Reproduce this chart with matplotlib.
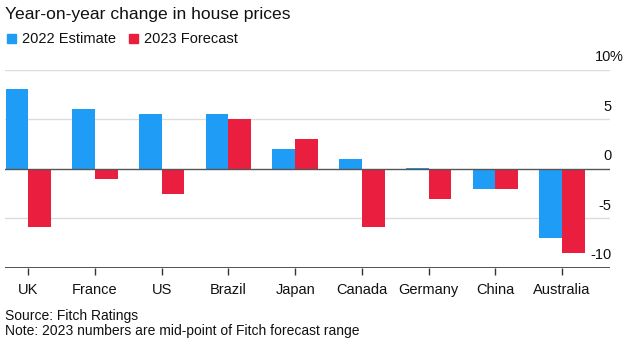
import numpy as np
import matplotlib.pyplot as plt
from matplotlib.patches import Rectangle
import matplotlib.transforms as mtransforms

plt.rcParams['font.family'] = ['Liberation Sans', 'DejaVu Sans']

countries = ['UK', 'France', 'US', 'Brazil', 'Japan', 'Canada', 'Germany', 'China', 'Australia']
est_2022 = [8.0, 6.0, 5.5, 5.5, 2.0, 1.0, 0.1, -2.0, -7.0]
fcst_2023 = [-5.9, -1.0, -2.5, 5.0, 3.0, -5.9, -3.0, -2.0, -8.5]
yticks = [10, 5, 0, -5, -10]

blue = '#1f9cf5'
red = '#ea1f40'

W, H = 634, 346
fig = plt.figure(figsize=(W / 100, H / 100), dpi=100)
ax = fig.add_axes([5 / W, 1 - 268 / H, 605 / W, (268 - 69.5) / H])

x = np.arange(len(countries))
w = 0.34
ax.bar(x - w / 2, est_2022, w, color=blue, zorder=3)
ax.bar(x + w / 2, fcst_2023, w, color=red, zorder=3)

ax.set_xlim(-0.35, 8.72)
ax.set_ylim(-10, 10)

# grid + zero line
for v in yticks:
    if v == 0:
        ax.axhline(v, color='#555555', lw=1, zorder=4)
    elif v == -10:
        ax.axhline(v, color='#333333', lw=1.2, zorder=4)
    else:
        ax.axhline(v, color='#dcdcdc', lw=1, zorder=1)

for s in ax.spines.values():
    s.set_visible(False)
ax.set_yticks([])
ax.set_xticks(x)
ax.set_xticklabels(countries, fontsize=10.5, color='#111111')
ax.tick_params(axis='x', length=5, width=1, color='#333333', pad=5.5)

# value labels sit above their gridlines on the right
trans = mtransforms.blended_transform_factory(ax.transAxes, ax.transData)
off = mtransforms.offset_copy(trans, fig=fig, x=1, y=4, units='points')
for v in yticks:
    ax.text(1.0, v, str(v), transform=off, ha='right', va='bottom',
            fontsize=10.5, color='#111111')
pct = mtransforms.offset_copy(trans, fig=fig, x=0, y=4, units='points')
ax.text(1.0, 10, '%', transform=pct, ha='left', va='bottom',
        fontsize=10.5, color='#111111')

fig.text(5 / W, 1 - 14 / H, 'Year-on-year change in house prices',
         fontsize=12.6, va='center', ha='left', color='#111111')

# legend
for px, col, lab in [(7, blue, '2022 Estimate'), (129, red, '2023 Forecast')]:
    fig.patches.append(Rectangle((px / W, 1 - 43 / H), 9 / W, 9 / H,
                                 transform=fig.transFigure, color=col))
    fig.text((px + 15) / W, 1 - 39 / H, lab, fontsize=10.5, va='center',
             ha='left', color='#111111')

fig.text(5 / W, 1 - 316 / H, 'Source: Fitch Ratings', fontsize=10,
         va='center', ha='left', color='#111111')
fig.text(5 / W, 1 - 331 / H, 'Note: 2023 numbers are mid-point of Fitch forecast range',
         fontsize=10, va='center', ha='left', color='#111111')

fig.savefig('out.png', dpi=100)
